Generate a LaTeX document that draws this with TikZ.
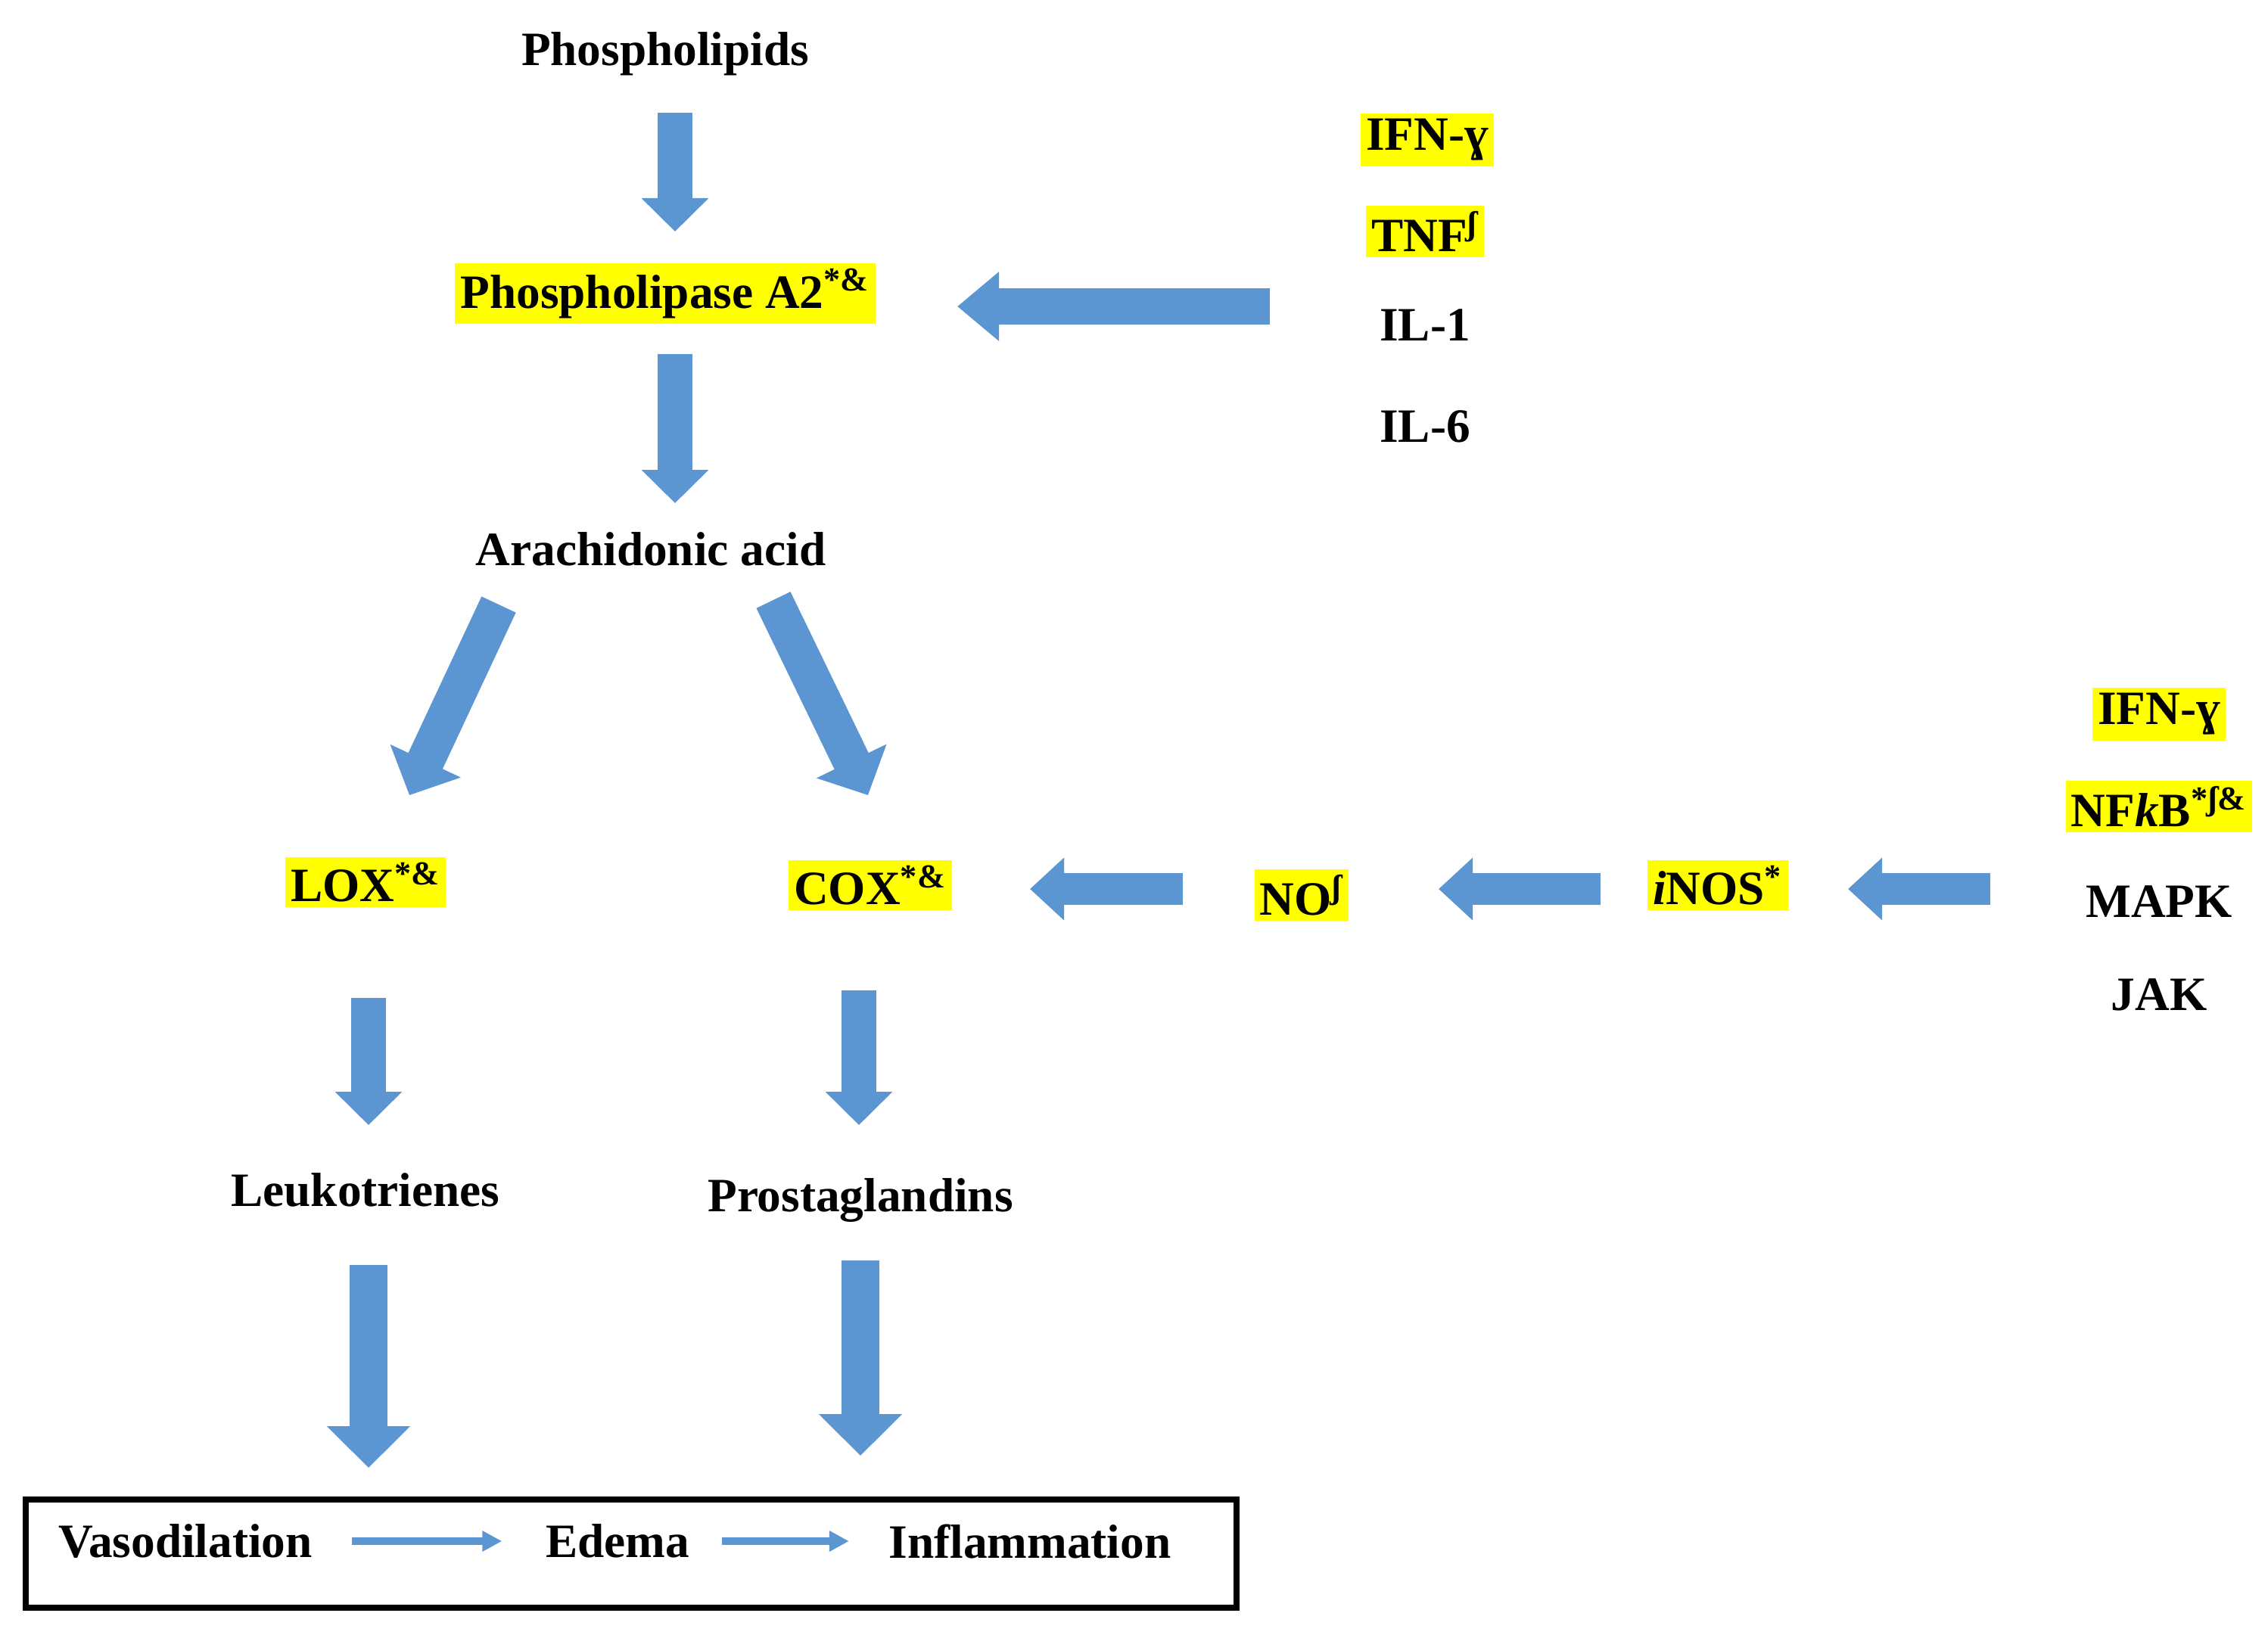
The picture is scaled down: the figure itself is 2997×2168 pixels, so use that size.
\documentclass[tikz,border=0pt]{standalone}
\usepackage{fontspec}
\setmainfont{Liberation Serif}
\usetikzlibrary{arrows.meta}
\definecolor{ab}{RGB}{91,150,210}
\definecolor{hl}{RGB}{255,255,0}
\begin{document}
\begin{tikzpicture}[x=0.01cm,y=-0.01cm,
  t/.style={font=\fontsize{18}{20}\selectfont\bfseries,inner sep=2pt},
  h/.style={t,fill=hl},
  va/.style={draw=ab,line width=0.46cm,-{Triangle[width=0.86cm,length=0.44cm]}},
  vb/.style={draw=ab,line width=0.5cm,-{Triangle[width=1.07cm,length=0.55cm]}},
  ha/.style={draw=ab,line width=0.48cm,-{Triangle[width=0.88cm,length=0.55cm]}},
  hs/.style={draw=ab,line width=0.42cm,-{Triangle[width=0.8cm,length=0.45cm]}},
  da/.style={draw=ab,line width=0.5cm,-{Triangle[width=1.0cm,length=0.5cm]}},
  ta/.style={draw=ab,line width=0.1cm,-{Triangle[width=0.26cm,length=0.26cm]}}]
\useasboundingbox (0,0) rectangle (2997,2168);
\node[t] (pl) at (879,71) {Phospholipids};
\node[h] (pa) at (879,388) {Phospholipase A2\textsuperscript{*\&}};
\node[t] (aa) at (860,726) {Arachidonic acid};
\node[h] (ifn1) at (1886,185) {IFN-ɣ};
\node[h] (tnf) at (1883,306) {TNF\textsuperscript{ʃ}};
\node[t] (il1) at (1883,430) {IL-1};
\node[t] (il6) at (1883,564) {IL-6};
\node[h] (lox) at (483,1166) {LOX\textsuperscript{*\&}};
\node[h] (cox) at (1150,1170) {COX\textsuperscript{*\&}};
\node[h] (no) at (1720,1183) {NO\textsuperscript{ʃ}};
\node[h] (inos) at (2270,1170) {\textit{i}NOS\textsuperscript{*}};
\node[h] (ifn2) at (2853,944) {IFN-ɣ};
\node[h] (nfkb) at (2853,1066) {NF\textit{k}B\textsuperscript{*ʃ\&}};
\node[t] (mapk) at (2853,1192) {MAPK};
\node[t] (jak) at (2853,1315) {JAK};
\node[t] (lt) at (483,1573) {Leukotrienes};
\node[t] (pg) at (1137,1586) {Prostaglandins};
\draw[line width=2.5pt] (34,1982) rectangle (1634,2125);
\node[t] (vd) at (245,2037) {Vasodilation};
\node[t] (ed) at (816,2037) {Edema};
\node[t] (inf) at (1361,2037) {Inflammation};
\coordinate (a1s) at (892,149); \coordinate (a1e) at (892,306);
\coordinate (a2s) at (892,468); \coordinate (a2e) at (892,665);
\coordinate (a3s) at (1678,405); \coordinate (a3e) at (1265,405);
\coordinate (d1s) at (659,799); \coordinate (d1e) at (541,1051);
\coordinate (d2s) at (1022,793); \coordinate (d2e) at (1147,1051);
\coordinate (h1s) at (1563,1175); \coordinate (h1e) at (1361,1175);
\coordinate (h2s) at (2115,1175); \coordinate (h2e) at (1901,1175);
\coordinate (h3s) at (2630,1175); \coordinate (h3e) at (2442,1175);
\coordinate (l1s) at (487,1319); \coordinate (l1e) at (487,1487);
\coordinate (c1s) at (1135,1309); \coordinate (c1e) at (1135,1487);
\coordinate (l2s) at (487,1672); \coordinate (l2e) at (487,1940);
\coordinate (c2s) at (1137,1666); \coordinate (c2e) at (1137,1924);
\draw[va] (a1s) -- (a1e);
\draw[va] (a2s) -- (a2e);
\draw[ha] (a3s) -- (a3e);
\draw[da] (d1s) -- (d1e);
\draw[da] (d2s) -- (d2e);
\draw[hs] (h1s) -- (h1e);
\draw[hs] (h2s) -- (h2e);
\draw[hs] (h3s) -- (h3e);
\draw[va] (l1s) -- (l1e);
\draw[va] (c1s) -- (c1e);
\draw[vb] (l2s) -- (l2e);
\draw[vb] (c2s) -- (c2e);
\draw[ta] ([xshift=0.45cm]vd.east) -- ([xshift=-0.5cm]ed.west);
\draw[ta] ([xshift=0.35cm]ed.east) -- ([xshift=-0.45cm]inf.west);
\end{tikzpicture}
\end{document}
